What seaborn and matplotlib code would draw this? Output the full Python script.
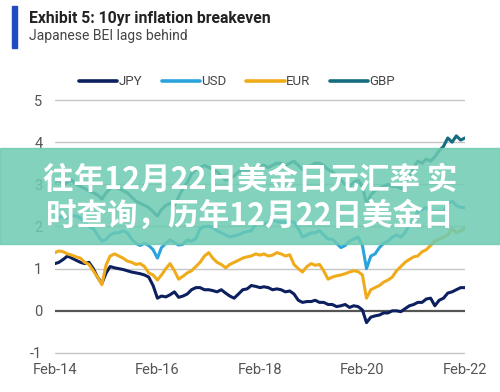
import matplotlib
matplotlib.use("Agg")
import matplotlib.pyplot as plt
import matplotlib.patches as mpatches
from matplotlib.lines import Line2D
import pandas as pd
import seaborn as sns

# monthly values, Feb-14 .. Feb-22
jpy = [1.12, 1.15, 1.22, 1.30, 1.25, 1.20, 1.15, 1.12, 1.15, 1.00, 0.80, 0.65,
       0.90, 1.05, 1.02, 1.00, 0.98, 0.95, 0.92, 0.90, 0.88, 0.85, 0.80, 0.60,
       0.30, 0.35, 0.33, 0.38, 0.45, 0.32, 0.35, 0.40, 0.50, 0.55, 0.55, 0.50,
       0.50, 0.48, 0.45, 0.50, 0.42, 0.35, 0.30, 0.40, 0.50, 0.52, 0.60, 0.58,
       0.55, 0.57, 0.55, 0.50, 0.52, 0.50, 0.45, 0.47, 0.40, 0.25, 0.20, 0.22,
       0.22, 0.25, 0.20, 0.20, 0.15, 0.15, 0.10, 0.12, 0.15, 0.08, 0.12, 0.10,
       0.02, -0.28, -0.15, -0.12, -0.10, -0.05, -0.05, 0.00, 0.00, -0.02, 0.05, 0.12,
       0.15, 0.20, 0.20, 0.28, 0.30, 0.12, 0.25, 0.30, 0.42, 0.45, 0.50, 0.55,
       0.55]
usd = [2.20, 2.20, 2.25, 2.20, 2.25, 2.25, 2.20, 2.10, 2.00, 1.95, 1.80, 1.65,
       1.70, 1.80, 1.85, 1.85, 1.90, 1.85, 1.70, 1.60, 1.55, 1.60, 1.55, 1.45,
       1.25, 1.50, 1.60, 1.68, 1.62, 1.56, 1.58, 1.68, 1.65, 1.72, 1.95, 2.00,
       2.00, 1.98, 1.90, 1.85, 1.80, 1.75, 1.78, 1.80, 1.85, 1.88, 1.90, 2.05,
       2.10, 2.05, 2.10, 2.15, 2.12, 2.10, 2.10, 2.12, 2.10, 1.95, 1.75, 1.80,
       1.85, 1.85, 1.90, 1.80, 1.70, 1.70, 1.60, 1.50, 1.55, 1.65, 1.70, 1.75,
       1.55, 1.00, 1.30, 1.35, 1.50, 1.60, 1.65, 1.75, 1.80, 1.75, 1.85, 2.05,
       2.15, 2.35, 2.40, 2.45, 2.35, 2.35, 2.35, 2.35, 2.55, 2.60, 2.50, 2.45,
       2.45]
eur = [1.38, 1.42, 1.40, 1.35, 1.32, 1.28, 1.25, 1.15, 1.10, 0.95, 0.80, 0.62,
       1.10, 1.30, 1.35, 1.30, 1.25, 1.18, 1.15, 1.10, 1.12, 1.05, 0.90, 0.85,
       0.73, 0.85, 1.00, 1.12, 0.95, 0.75, 0.82, 0.90, 0.95, 1.05, 1.15, 1.30,
       1.38, 1.25, 1.15, 1.10, 1.02, 1.10, 1.15, 1.20, 1.25, 1.28, 1.30, 1.35,
       1.32, 1.35, 1.30, 1.32, 1.38, 1.35, 1.30, 1.33, 1.10, 1.00, 0.92, 1.05,
       1.12, 1.08, 1.10, 0.95, 0.75, 0.80, 0.83, 0.85, 0.88, 0.92, 0.95, 0.93,
       0.85, 0.30, 0.50, 0.55, 0.60, 0.68, 0.73, 0.80, 0.95, 1.05, 1.15, 1.22,
       1.28, 1.30, 1.40, 1.45, 1.55, 1.65, 1.70, 1.75, 1.80, 1.95, 1.85, 1.90,
       1.95]
gbp = [3.05, 3.10, 3.00, 3.05, 3.10, 3.00, 2.95, 2.90, 2.85, 2.80, 2.75, 2.65,
       2.80, 2.90, 2.95, 2.90, 2.85, 2.80, 2.70, 2.60, 2.55, 2.50, 2.45, 2.35,
       2.25, 2.40, 2.50, 2.55, 2.50, 2.70, 2.90, 3.05, 3.25, 3.35, 3.40, 3.45,
       3.40, 3.35, 3.30, 3.20, 3.10, 3.15, 3.20, 3.30, 3.35, 3.30, 3.35, 3.40,
       3.45, 3.45, 3.40, 3.45, 3.50, 3.50, 3.45, 3.50, 3.55, 3.45, 3.35, 3.40,
       3.45, 3.50, 3.50, 3.45, 3.35, 3.30, 3.20, 3.10, 3.00, 2.95, 3.05, 3.10,
       2.95, 2.55, 2.75, 2.85, 2.90, 2.95, 3.00, 2.95, 2.95, 2.90, 3.05, 3.20,
       3.40, 3.55, 3.50, 3.60, 3.55, 3.65, 3.80, 3.90, 4.10, 4.00, 4.15, 4.05,
       4.10]

currencies = ["JPY", "USD", "EUR", "GBP"]
colors = ["#0c1f5e", "#2ba3dd", "#f0ab1b", "#156b80"]
dates = pd.date_range("2014-02-01", periods=len(jpy), freq="MS")
xtick_labels = ["Feb-14", "Feb-16", "Feb-18", "Feb-20", "Feb-22"]

df = pd.DataFrame({"date": dates, "JPY": jpy, "USD": usd, "EUR": eur, "GBP": gbp})
long_df = df.melt(id_vars="date", var_name="currency", value_name="bei")

sns.set_theme(style="white")
plt.rcParams["font.family"] = ["Roboto", "DejaVu Sans"]

fig = plt.figure(figsize=(5, 3.92), dpi=100)
ax = fig.add_axes([0.11, 0.0888, 0.82, 0.6668])

sns.lineplot(data=long_df, x="date", y="bei", hue="currency", hue_order=currencies,
             palette=dict(zip(currencies, colors)), linewidth=2.2, ax=ax, legend=False)

for v in [-1, 1, 2, 3, 4, 5]:
    ax.axhline(v, color="#c6c6c6", lw=1.0, zorder=0)
ax.axhline(0, color="#555555", lw=1.6, zorder=0)

ax.set_xlim(dates[0], dates[-1])
ax.set_ylim(-1.1, 5.1)
ax.set_yticks([-1, 0, 1, 2, 3, 4, 5])
ax.set_yticklabels(["-1", "0", "1", "2", "3", "4", "5"])
ax.set_xticks(pd.to_datetime(["2014-02-01", "2016-02-01", "2018-02-01", "2020-02-01", "2022-02-01"]))
ax.set_xticklabels(xtick_labels)
ax.tick_params(axis="y", length=0, pad=9, labelsize=10.5, labelcolor="#555555")
ax.tick_params(axis="x", length=0, pad=4, labelsize=10.5, labelcolor="#555555")
ax.set_xlabel("")
ax.set_ylabel("")
sns.despine(ax=ax, left=True, bottom=True)

handles = [Line2D([0], [0], color=c, lw=2.6) for c in colors]
fig.legend(handles, currencies, loc="center", bbox_to_anchor=(0.474, 0.791), ncol=4,
           frameon=False, handlelength=2.9, handletextpad=0.1, columnspacing=1.5,
           fontsize=9.5, labelcolor="#444444")

# header
fig.patches.append(mpatches.Rectangle((12 / 500, 1 - 48 / 392), 5 / 500, 42 / 392,
                                      transform=fig.transFigure, color="#1f4cc4"))
fig.text(29 / 500, 0.952, "Exhibit 5: 10yr inflation breakeven", fontsize=11.3,
         fontweight="bold", color="#222222", va="center")
fig.text(29 / 500, 0.907, "Japanese BEI lags behind", fontsize=10,
         color="#444444", va="center")

# translucent banner with the page caption
fig.patches.append(mpatches.Rectangle((0, 1 - 244 / 392), 1, 96 / 392,
                                      transform=fig.transFigure, color="#6dcab2",
                                      alpha=0.85, zorder=5))
cjk = ["Noto Sans CJK SC", "DejaVu Sans"]
fig.text(0.5, 1 - 180 / 392, "往年12月22日美金日元汇率 实", family=cjk, fontsize=22,
         fontweight="bold", color="white", ha="center", va="center", zorder=6)
fig.text(0.5, 1 - 216 / 392, "时查询，历年12月22日美金日", family=cjk, fontsize=22,
         fontweight="bold", color="white", ha="center", va="center", zorder=6)

fig.savefig("out.png", dpi=100)
